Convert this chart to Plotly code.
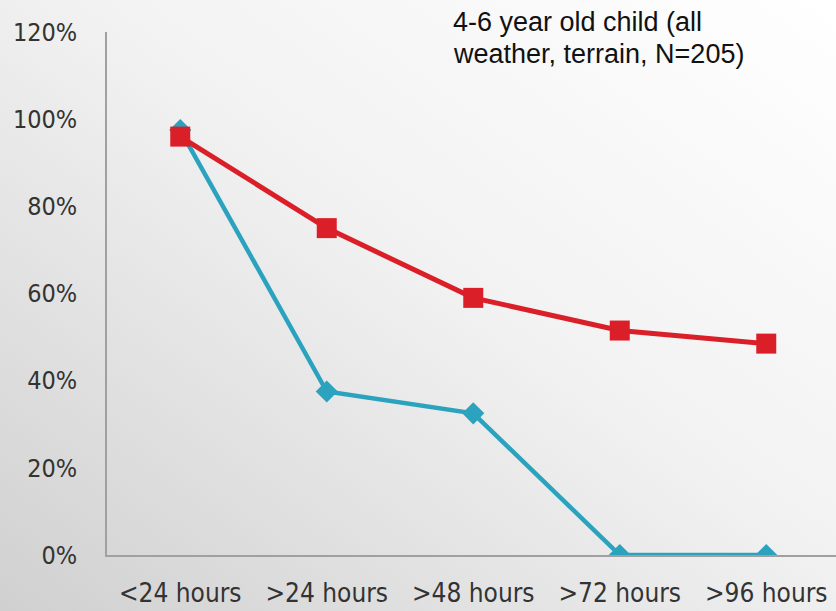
import base64
import plotly.graph_objects as go

# Time since the child went missing, and share of cases still unresolved
categories = ["<24 hours", ">24 hours", ">48 hours", ">72 hours", ">96 hours"]
survival_blue = [97.5, 37.5, 32.5, 0, 0]
survival_red = [96, 75, 59, 51.5, 48.5]
y_ticks = [0, 20, 40, 60, 80, 100, 120]
y_tick_text = ["0%", "20%", "40%", "60%", "80%", "100%", "120%"]
note_lines = ["4-6 year old child (all", "weather, terrain, N=205)"]

W, H = 836, 611
L, R, T, B = 107, 0, 32, 56
pw, ph = W - L - R, H - T - B

# diagonal grey-to-white backdrop
svg = (
    '<svg xmlns="http://www.w3.org/2000/svg" width="836" height="611" '
    'preserveAspectRatio="none" viewBox="0 0 836 611">'
    '<defs><linearGradient id="g" x1="0" y1="1" x2="1" y2="0">'
    '<stop offset="0" stop-color="#d0d0d0"/>'
    '<stop offset="0.55" stop-color="#f2f2f2"/>'
    '<stop offset="1" stop-color="#ffffff"/>'
    '</linearGradient></defs>'
    '<rect width="836" height="611" fill="url(#g)"/></svg>'
)
bg_src = "data:image/svg+xml;base64," + base64.b64encode(svg.encode()).decode()

fig = go.Figure()
fig.add_trace(go.Scatter(
    x=categories, y=survival_blue, mode="lines+markers",
    line=dict(color="#2ba3bf", width=4.5),
    marker=dict(symbol="diamond", size=17, color="#2ba3bf"),
    showlegend=False,
))
fig.add_trace(go.Scatter(
    x=categories, y=survival_red, mode="lines+markers",
    line=dict(color="#da1f28", width=5),
    marker=dict(symbol="square", size=20, color="#da1f28"),
    showlegend=False,
))

# two-line note, each line placed on its own so the leading stays tight
for i, line in enumerate(note_lines):
    center_px = 22 + 32 * i
    fig.add_annotation(
        x=(451 - L) / pw, y=1 + (T - center_px) / ph,
        xref="paper", yref="paper", text=line,
        showarrow=False, xanchor="left", yanchor="middle", align="left",
        font=dict(family="Liberation Sans, Arial", size=27, color="#111111"),
    )

fig.add_layout_image(
    source=bg_src, xref="paper", yref="paper",
    x=-L / pw, y=1 + T / ph, sizex=W / pw, sizey=H / ph,
    xanchor="left", yanchor="top", sizing="stretch", layer="below",
)

fig.update_layout(
    width=W, height=H,
    margin=dict(l=L, r=R, t=T, b=B, pad=0, autoexpand=False),
    paper_bgcolor="white", plot_bgcolor="rgba(0,0,0,0)",
    xaxis=dict(
        type="category", range=[-0.5, 4.476], showgrid=False, zeroline=False,
        showline=True, linecolor="#a0a0a0", linewidth=1.5, automargin=False,
        ticks="", ticklabelstandoff=14,
        tickfont=dict(family="DejaVu Sans Condensed", size=26, color="#333333"),
    ),
    yaxis=dict(
        range=[0, 120], tickvals=y_ticks, ticktext=y_tick_text,
        showgrid=False, zeroline=False, automargin=False,
        showline=True, linecolor="#a0a0a0", linewidth=1.5,
        ticks="", ticklabelstandoff=23,
        tickfont=dict(family="DejaVu Sans Condensed", size=25, color="#333333"),
    ),
)

fig.write_html("out.html")
